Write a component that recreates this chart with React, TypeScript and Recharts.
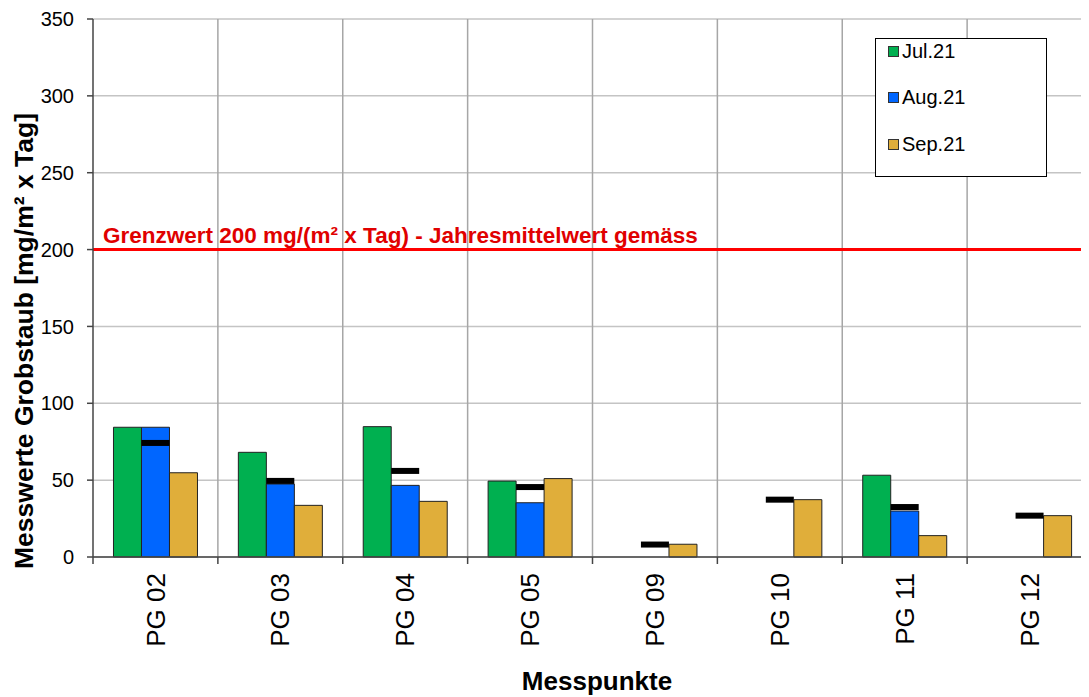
import React from 'react'
import {
  ComposedChart,
  Bar,
  Line,
  XAxis,
  YAxis,
  CartesianGrid,
  ReferenceLine,
  Legend,
} from 'recharts'

// Messpunkte and monthly Grobstaub values (mg/(m² x Tag))
const POINTS = ['PG 02', 'PG 03', 'PG 04', 'PG 05', 'PG 09', 'PG 10', 'PG 11', 'PG 12']
const JUL_21 = [84.4, 68.1, 84.8, 49.4, null, null, 53.2, null]
const AUG_21 = [84.4, 47.5, 46.6, 35.3, null, null, 29.9, null]
const SEP_21 = [54.8, 33.6, 36.2, 51.0, 8.3, 37.3, 13.9, 26.9]
// black marks: mean of the period
const MEAN = [74.2, 49.5, 56.0, 45.5, 8.1, 37.3, 32.5, 26.9]

const Y_TICKS = [0, 50, 100, 150, 200, 250, 300, 350]
const LIMIT = 200

const SERIES = [
  { key: 'jul', name: 'Jul.21', color: '#00B050' },
  { key: 'aug', name: 'Aug.21', color: '#0066FF' },
  { key: 'sep', name: 'Sep.21', color: '#E0AE3A' },
]

const FONT = '"Liberation Sans", Arial, Helvetica, sans-serif'
const CHART_W = 1084
const CHART_H = 689
const Y_AXIS_W = 85
const CAT_W = (CHART_W - Y_AXIS_W) / POINTS.length

const data = POINTS.map((p, i) => ({
  point: p,
  jul: JUL_21[i],
  aug: AUG_21[i],
  sep: SEP_21[i],
  mean: MEAN[i],
}))

function PointTick(props: any) {
  const { x, y, payload, index } = props
  const ty = y + 16
  return (
    <g>
      <line x1={x - CAT_W / 2} x2={x - CAT_W / 2} y1={y} y2={y + 7} stroke="#444" strokeWidth={1.5} />
      {index === POINTS.length - 1 && (
        <line x1={x + CAT_W / 2} x2={x + CAT_W / 2} y1={y} y2={y + 7} stroke="#444" strokeWidth={1.5} />
      )}
      <text
        x={x}
        y={ty}
        dy="0.35em"
        textAnchor="end"
        transform={`rotate(-90, ${x}, ${ty})`}
        fontSize={26}
        fill="#000"
      >
        {payload.value}
      </text>
    </g>
  )
}

function MeanMark(props: any) {
  const { cx, cy, value } = props
  if (value == null || cy == null || isNaN(cy)) return <g />
  return <rect x={cx - 14} y={cy - 3} width={28} height={6} fill="#000" />
}

function LegendBox() {
  return (
    <div
      style={{
        boxSizing: 'border-box',
        width: 172,
        height: 139,
        border: '1px solid #000',
        background: '#fff',
        paddingLeft: 12,
        paddingTop: 0,
        fontFamily: FONT,
        fontSize: 20,
        color: '#000',
      }}
    >
      {SERIES.map(s => (
        <div key={s.key} style={{ display: 'flex', alignItems: 'center', height: 24, marginBottom: 22.5 }}>
          <span
            style={{
              boxSizing: 'border-box',
              width: 11,
              height: 11,
              background: s.color,
              border: '1px solid #333',
              marginRight: 3,
            }}
          />
          <span>{s.name}</span>
        </div>
      ))}
    </div>
  )
}

export default function App() {
  return (
    <div style={{ width: 1081, height: CHART_H, overflow: 'hidden', fontFamily: FONT }}>
      <ComposedChart
        width={CHART_W}
        height={CHART_H}
        data={data}
        margin={{ top: 11, right: 0, bottom: 0, left: 0 }}
        barGap={0}
        barCategoryGap="16.4%"
      >
        <CartesianGrid vertical={false} stroke="#c4c4c4" strokeWidth={1.5} />
        <CartesianGrid
          horizontal={false}
          stroke="#a6a6a6"
          strokeWidth={1.5}
          verticalCoordinatesGenerator={({ offset }: any) =>
            POINTS.map((_, i) => offset.left + ((i + 1) * offset.width) / POINTS.length)
          }
        />
        <XAxis
          dataKey="point"
          height={CHART_H - 11 - 538}
          interval={0}
          tickLine={false}
          tickSize={0}
          tickMargin={0}
          axisLine={{ stroke: '#444', strokeWidth: 1.5 }}
          tick={<PointTick />}
          label={{
            content: () => (
              <text x={589} y={682} textAnchor="middle" fontSize={26} fontWeight="bold" fill="#000">
                Messpunkte
              </text>
            ),
          }}
        />
        <YAxis
          width={Y_AXIS_W}
          domain={[0, 350]}
          ticks={Y_TICKS}
          interval={0}
          tickSize={6}
          tickMargin={13}
          tickLine={{ stroke: '#444', strokeWidth: 1.5 }}
          axisLine={{ stroke: '#444', strokeWidth: 1.5 }}
          tick={{ fontSize: 20, fill: '#000' }}
          label={{
            content: () => (
              <text
                x={16}
                y={333}
                dy="0.35em"
                textAnchor="middle"
                transform="rotate(-90, 16, 333)"
                fontSize={26.5}
                fontWeight="bold"
                fill="#000"
              >
                Messwerte Grobstaub [mg/m² x Tag]
              </text>
            ),
          }}
        />
        <ReferenceLine
          y={LIMIT}
          stroke="#ff0000"
          strokeWidth={3}
          label={{
            content: ({ viewBox }: any) => (
              <text x={viewBox.x + 10} y={viewBox.y - 6.5} fontSize={22.5} fontWeight="bold" fill="#e00000">
                Grenzwert 200 mg/(m² x Tag) - Jahresmittelwert gemäss
              </text>
            ),
          }}
        />
        {SERIES.map(s => (
          <Bar
            key={s.key}
            dataKey={s.key}
            name={s.name}
            fill={s.color}
            stroke="#222"
            strokeWidth={1}
            isAnimationActive={false}
          />
        ))}
        <Line
          dataKey="mean"
          stroke="none"
          dot={<MeanMark />}
          activeDot={false}
          legendType="none"
          isAnimationActive={false}
        />
        <Legend
          layout="horizontal"
          verticalAlign="middle"
          align="center"
          content={<LegendBox />}
          wrapperStyle={{ left: 867, top: 30, width: 172, height: 139 }}
        />
      </ComposedChart>
    </div>
  )
}
